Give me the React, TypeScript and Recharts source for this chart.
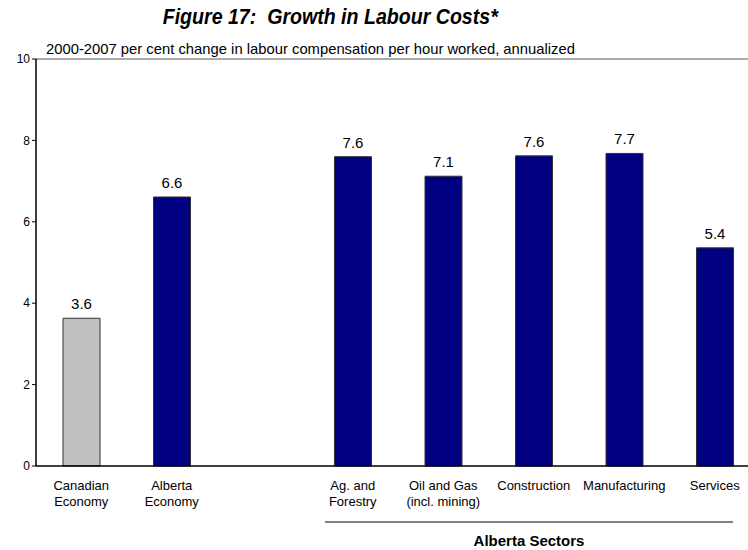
import React from 'react';
import { BarChart, Bar, XAxis, YAxis, Cell, LabelList, ReferenceLine } from 'recharts';

const categories = [
  'Canadian\nEconomy',
  'Alberta\nEconomy',
  ' ',
  'Ag. and\nForestry',
  'Oil and Gas\n(incl. mining)',
  'Construction',
  'Manufacturing',
  'Services',
];
const values: (number | null)[] = [3.63, 6.61, null, 7.6, 7.12, 7.62, 7.68, 5.36];
const barColors = ['#C0C0C0', '#000080', '#000080', '#000080', '#000080', '#000080', '#000080', '#000080'];
const yTicks = [0, 2, 4, 6, 8, 10];

const data = categories.map((name, i) => ({ name, value: values[i] }));

const FONT = 'Arial, "Liberation Sans", sans-serif';

const CategoryTick = (props: any) => {
  const { x, y, payload } = props;
  const lines = String(payload.value).split('\n');
  return (
    <text x={x} y={y} textAnchor="middle" fontFamily={FONT} fontSize={13} fill="#000">
      {lines.map((l, i) => (
        <tspan key={i} x={x} dy={16}>
          {l}
        </tspan>
      ))}
    </text>
  );
};

const App: React.FC = () => {
  return (
    <div style={{ position: 'absolute', left: 0, top: 0, width: 748, height: 550, overflow: 'hidden', background: '#fff', fontFamily: FONT }}>
      <div style={{ position: 'absolute', left: 0, top: 4, width: 660, textAlign: 'center' }}>
        <span style={{ display: 'inline-block', fontSize: 22, fontWeight: 'bold', fontStyle: 'italic', whiteSpace: 'pre', transform: 'scaleX(0.89)' }}>
          {'Figure 17:  Growth in Labour Costs*'}
        </span>
      </div>
      <div style={{ position: 'absolute', left: 46, top: 41, fontSize: 14.8, whiteSpace: 'pre', lineHeight: '16px' }}>
        2000-2007 per cent change in labour compensation per hour worked, annualized
      </div>
      <BarChart width={770} height={550} data={data} margin={{ top: 59, right: 10, bottom: 0, left: 0 }}>
        <ReferenceLine y={10} stroke="#555" strokeWidth={1} />
        <XAxis
          dataKey="name"
          height={84}
          interval={0}
          tickLine={false}
          axisLine={{ stroke: '#000', strokeWidth: 1.5 }}
          tick={<CategoryTick />}
        />
        <YAxis
          width={36}
          domain={[0, 10]}
          ticks={yTicks}
          tickSize={4}
          tickLine={{ stroke: '#000' }}
          axisLine={{ stroke: '#000', strokeWidth: 1.5 }}
          tick={{ fontFamily: FONT, fontSize: 12, fill: '#000' }}
        />
        <Bar dataKey="value" barSize={37} stroke="#333" strokeWidth={1} isAnimationActive={false}>
          {data.map((d, i) => (
            <Cell key={`cell-${i}`} fill={barColors[i]} />
          ))}
          <LabelList
            dataKey="value"
            position="top"
            offset={9}
            formatter={(v: any) => (v == null ? '' : Number(v).toFixed(1))}
            style={{ fontFamily: FONT, fontSize: 15, fill: '#000' }}
          />
        </Bar>
      </BarChart>
      <div style={{ position: 'absolute', left: 325, top: 521, width: 408, height: 0, borderTop: '2px solid #808080' }} />
      <div style={{ position: 'absolute', left: 325, top: 532, width: 408, textAlign: 'center', fontSize: 15, fontWeight: 'bold' }}>
        Alberta Sectors
      </div>
    </div>
  );
};

export default App;
